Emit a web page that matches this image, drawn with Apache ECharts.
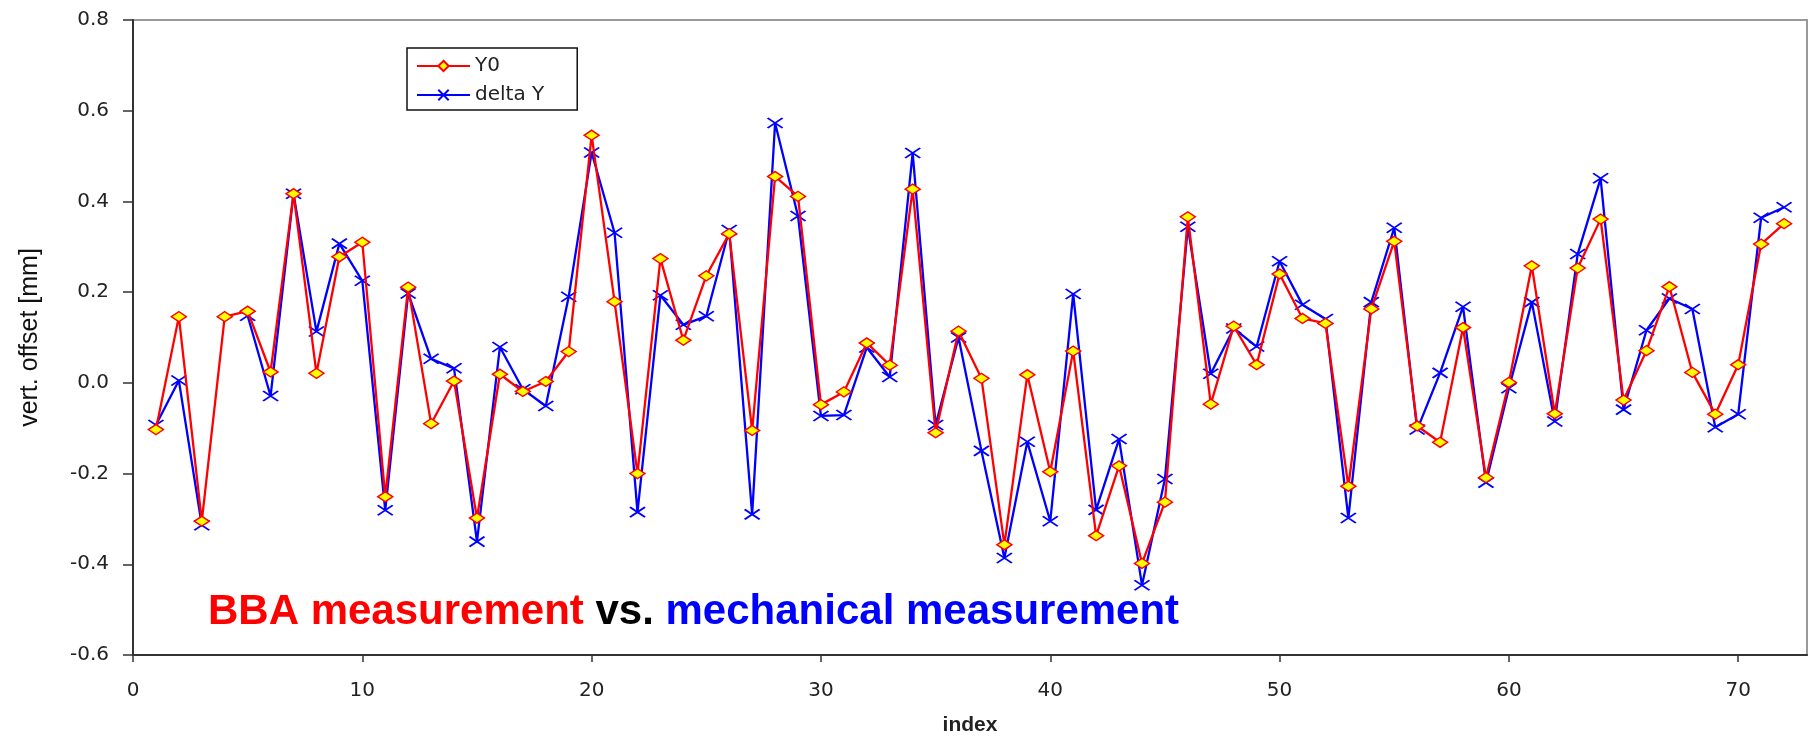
<!DOCTYPE html>
<html>
<head>
<meta charset="utf-8">
<script src="https://cdn.jsdelivr.net/npm/echarts@6/dist/echarts.min.js"></script>
<style>
html,body{margin:0;padding:0;background:#fff;}
#chart{width:1810px;height:741px;}
</style>
</head>
<body>
<div id="chart"></div>
<script>
const indices = [1,2,3,4,5,6,7,8,9,10,11,12,13,14,15,16,17,18,19,20,21,22,23,24,25,26,27,28,29,30,31,32,33,34,35,36,37,38,39,40,41,42,43,44,45,46,47,48,49,50,51,52,53,54,55,56,57,58,59,60,61,62,63,64,65,66,67,68,69,70,71,72];
const y0Values = [-0.103,0.146,-0.305,0.146,0.158,0.024,0.417,0.021,0.278,0.310,-0.251,0.211,-0.090,0.004,-0.298,0.019,-0.019,0.003,0.069,0.546,0.179,-0.200,0.274,0.094,0.236,0.329,-0.105,0.455,0.411,-0.048,-0.020,0.088,0.039,0.427,-0.110,0.114,0.010,-0.357,0.018,-0.196,0.070,-0.337,-0.183,-0.398,-0.263,0.366,-0.047,0.125,0.040,0.240,0.142,0.131,-0.228,0.163,0.312,-0.095,-0.131,0.122,-0.209,0.001,0.258,-0.068,0.253,0.361,-0.038,0.071,0.212,0.023,-0.069,0.040,0.306,0.351];
const deltaYValues = [-0.093,0.005,-0.314,null,0.148,-0.029,0.417,0.113,0.307,0.225,-0.281,0.197,0.053,0.032,-0.350,0.079,-0.014,-0.051,0.190,0.508,0.331,-0.285,0.193,0.128,0.147,0.337,-0.290,0.573,0.368,-0.073,-0.071,0.078,0.013,0.507,-0.093,0.100,-0.150,-0.386,-0.130,-0.305,0.196,-0.280,-0.124,-0.446,-0.212,0.344,0.020,0.120,0.080,0.268,0.172,0.141,-0.298,0.178,0.342,-0.103,0.022,0.168,-0.220,-0.012,0.178,-0.085,0.284,0.451,-0.059,0.116,0.186,0.163,-0.098,-0.069,0.364,0.387];
const xTicks = [0,10,20,30,40,50,60,70];
const seriesNames = ['Y0','delta Y'];
const xAxisName = 'index';
const yAxisName = 'vert. offset [mm]';
const annotationParts = ['BBA measurement', 'vs.', 'mechanical measurement'];

const chart = echarts.init(document.getElementById('chart'), null, {renderer:'canvas'});
const pairs = (vals) => indices.map((x,i) => [x, vals[i]]);
const tickFont = {fontFamily:'DejaVu Sans', fontSize:20, color:'#222'};

chart.setOption({
  animation:false,
  backgroundColor:'#fff',
  grid:{left:133,right:3,top:20,bottom:81,show:true,borderColor:'#999',borderWidth:2,backgroundColor:'transparent'},
  title:{
    left:203, top:586,
    text:'{r|'+annotationParts[0]+'} {k|'+annotationParts[1]+'} {b|'+annotationParts[2]+'}',
    textStyle:{
      fontFamily:'Liberation Sans', fontWeight:'bold', fontSize:42,
      rich:{
        r:{color:'#ff0000',fontFamily:'Liberation Sans',fontWeight:'bold',fontSize:42},
        k:{color:'#000000',fontFamily:'Liberation Sans',fontWeight:'bold',fontSize:42},
        b:{color:'#0000ff',fontFamily:'Liberation Sans',fontWeight:'bold',fontSize:42}
      }
    }
  },
  legend:{
    orient:'vertical', left:407, top:48,
    itemWidth:53, itemHeight:13, itemGap:9,
    padding:[8,33,5,9],
    borderColor:'#111', borderWidth:1.5,
    textStyle:{fontFamily:'DejaVu Sans', fontSize:20, color:'#222'},
    data:seriesNames
  },
  xAxis:{
    type:'value', min:0, max:73, interval:10,
    name:xAxisName, nameLocation:'middle', nameGap:60,
    nameTextStyle:{fontFamily:'Liberation Sans', fontWeight:'bold', fontSize:21, color:'#222'},
    axisLine:{show:true,onZero:false,lineStyle:{color:'#333',width:2}},
    axisTick:{show:true,inside:false,length:7,customValues:xTicks,lineStyle:{color:'#333',width:1.5}},
    axisLabel:{show:true,margin:26,customValues:xTicks,...tickFont},
    splitLine:{show:false}
  },
  yAxis:{
    type:'value', min:-0.6, max:0.8, interval:0.2,
    name:yAxisName, nameLocation:'middle', nameGap:90,
    nameTextStyle:{fontFamily:'Liberation Sans', fontSize:25, color:'#111'},
    axisLine:{show:true,onZero:false,lineStyle:{color:'#333',width:2}},
    axisTick:{show:true,inside:false,length:10,lineStyle:{color:'#333',width:1.5}},
    axisLabel:{show:true,margin:24,formatter:(v)=>v.toFixed(1),...tickFont},
    splitLine:{show:false}
  },
  series:[
    {
      name:seriesNames[0], type:'line', data:pairs(y0Values),
      symbol:'diamond', symbolSize:[15,10],
      lineStyle:{color:'#ff0000',width:2.3},
      itemStyle:{color:'#ffff00',borderColor:'#ff0000',borderWidth:1.5},
      z:3
    },
    {
      name:seriesNames[1], type:'line', data:pairs(deltaYValues),
      connectNulls:false,
      symbol:'path://M0,0L14,10M14,0L0,10', symbolSize:[15,10],
      lineStyle:{color:'#0000ff',width:2.3},
      itemStyle:{color:'#0000ff',borderColor:'#0000ff',borderWidth:1.8},
      z:2
    }
  ]
});
</script>
</body>
</html>
